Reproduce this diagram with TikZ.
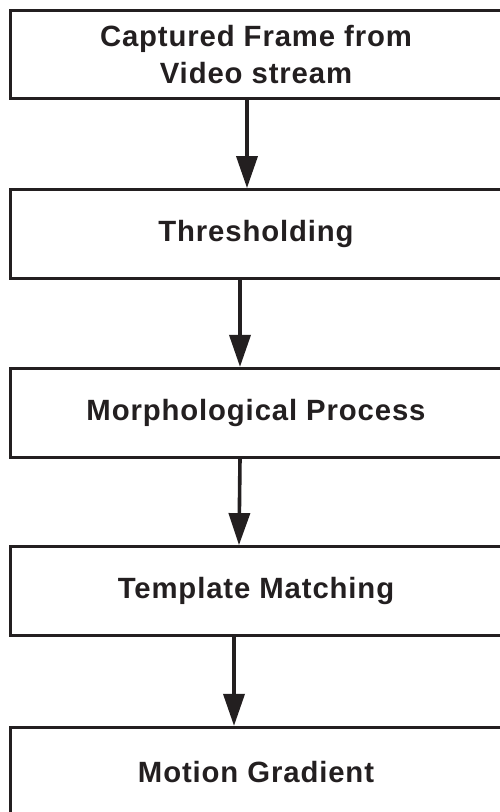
\documentclass[tikz,border=0pt]{standalone}
\usepackage{fontspec}
\setmainfont{Liberation Sans}[LetterSpace=3]
\usetikzlibrary{arrows.meta}
\definecolor{ink}{HTML}{231F20}
\tikzset{
  stepbox/.style={draw=ink, line width=3.2pt, minimum width=490.6pt, minimum height=88.6pt,
    text=ink, align=center, inner sep=0pt,
    font=\bfseries\fontsize{29.3}{36.7}\selectfont},
  flowarrow/.style={draw=ink, line width=3.6pt, -{Triangle[width=21pt,length=32pt]}}
}
\begin{document}
\begin{tikzpicture}[x=1pt,y=-1pt]
\useasboundingbox (0,0) rectangle (500,812);
\node[stepbox, minimum height=87.6pt] (b1) at (256,54.5) {Captured Frame from\\Video stream};
\node[stepbox] (b2) at (256,234) {Thresholding};
\node[stepbox] (b3) at (256,412.8) {Morphological Process};
\node[stepbox] (b4) at (256,591) {Template Matching};
\node[stepbox, minimum height=89pt] (b5) at (256,772) {Motion Gradient};
\draw[flowarrow] ([xshift=-9pt]b1.south) -- ([xshift=-9pt]b2.north);
\draw[flowarrow] ([xshift=-16pt]b2.south) -- ([xshift=-16pt]b3.north);
\draw[flowarrow] ([xshift=-16pt]b3.south) -- ([xshift=-17pt]b4.north);
\draw[flowarrow] ([xshift=-22pt]b4.south) -- ([xshift=-22pt]b5.north);
\end{tikzpicture}
\end{document}
